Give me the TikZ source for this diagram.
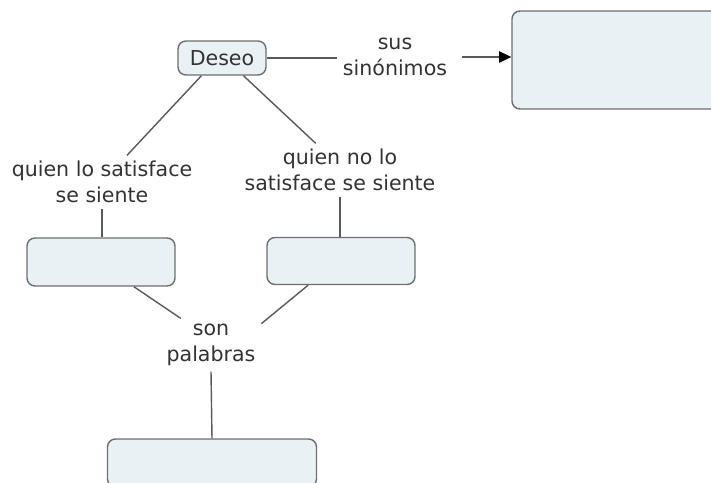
\documentclass[tikz,border=0pt]{standalone}
\usepackage{fontspec}
\setmainfont{DejaVu Sans}
\usetikzlibrary{arrows.meta,calc}
\definecolor{boxfill}{HTML}{E9F1F5}
\definecolor{boxline}{HTML}{6E6E6E}
\definecolor{linkline}{HTML}{5A5A5A}
\definecolor{textgray}{HTML}{333333}

\begin{document}
\begin{tikzpicture}[x=0.02cm,y=-0.02cm,>={Triangle[length=7pt,width=6.5pt,color=black]},
  line width=0.8pt,
  map text/.style={text=textgray,font=\fontsize{11.7}{14.5}\selectfont},
  concept node/.style={rectangle,rounded corners=4.5pt,draw=boxline,fill=boxfill,inner sep=0pt,map text},
  link node/.style={align=center,inner sep=3pt,map text},
  link/.style={draw=linkline}]
  \useasboundingbox (0,0) rectangle (711,483);
  \clip (0,0) rectangle (711,483);
  % concepts
  \node[concept node,minimum width=1.76cm,minimum height=0.68cm] (deseo) at (222,58) {Deseo};
  \node[concept node,minimum width=4.6cm,minimum height=1.96cm] (synbox) at (627,60) {};
  \node[concept node,minimum width=2.96cm,minimum height=0.96cm] (happy) at (101,262) {};
  \node[concept node,minimum width=2.96cm,minimum height=0.94cm] (unhappy) at (341,261) {};
  \node[concept node,minimum width=4.18cm,minimum height=0.96cm] (words) at (212,463) {};
  % linking phrases
  \node[link node] (sinon) at (395,57) {sus\\sinónimos};
  \node[link node] (lab1) at (102,182) {quien lo satisface\\se siente};
  \node[link node] (lab2) at (340,170) {quien no lo\\satisface se siente};
  \node[link node] (lab3) at (211,345) {son\\palabras};
  % connectors
  \draw[link] (deseo.east) -- (deseo.east -| sinon.west);
  \draw[link,->] ([xshift=5pt]sinon.east) -- (sinon.east -| synbox.west);
  \draw[link] ($(deseo.south west)!.27!(deseo.south east)$) -- ($(lab1.north west)!.63!(lab1.north east)$);
  \draw[link] ($(deseo.south west)!.74!(deseo.south east)$) -- ($(lab2.north west)!.38!(lab2.north east)$);
  \draw[link] (lab1.south) -- (lab1.south |- happy.north);
  \draw[link] (lab2.south) -- (lab2.south |- unhappy.north);
  \draw[link] ($(happy.south west)!.72!(happy.south east)$) -- ($(lab3.north west)!.2!(lab3.north east)$);
  \draw[link] ($(unhappy.south west)!.28!(unhappy.south east)$) -- ([yshift=-3pt]lab3.north east);
  \draw[link] (lab3.south) -- (words.north);
\end{tikzpicture}
\end{document}
